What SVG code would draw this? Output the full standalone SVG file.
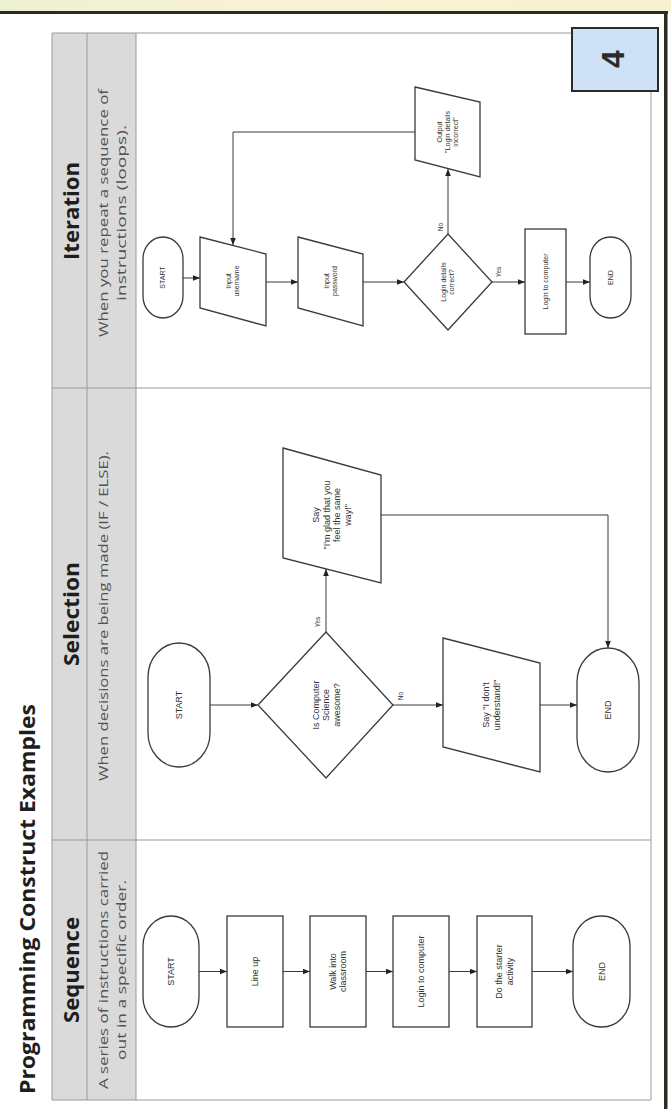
<svg xmlns="http://www.w3.org/2000/svg" width="671" height="1109" viewBox="0 0 671 1109">
<defs>
<linearGradient id="band" x1="0" y1="0" x2="1" y2="0">
<stop offset="0" stop-color="#eef0d2"/><stop offset="0.4" stop-color="#f7f3d4"/><stop offset="1" stop-color="#f6f1d0"/>
</linearGradient>
<marker id="ah" viewBox="0 0 10 10" refX="10" refY="5" markerWidth="7" markerHeight="7" markerUnits="userSpaceOnUse" orient="auto">
<path d="M0,1 L10,5 L0,9 z" fill="#222"/>
</marker>
<style>
.shape{fill:#fff;stroke:#3a3a3a;stroke-width:1.3}
.conn{fill:none;stroke:#3a3a3a;stroke-width:1;marker-end:url(#ah)}
.line{fill:none;stroke:#3a3a3a;stroke-width:1}
.grid{fill:none;stroke:#9a9a9a;stroke-width:1}
.nt{font-family:'Liberation Sans',Arial,sans-serif;font-size:9px;fill:#333;text-anchor:middle}
.st{font-family:'Liberation Sans',Arial,sans-serif;font-size:7px;fill:#333;text-anchor:middle}
.lb{font-family:'Liberation Sans',Arial,sans-serif;font-size:6.5px;fill:#333;text-anchor:middle}
.hd{font-family:'Open Sans','Liberation Sans',sans-serif;font-weight:bold;font-size:22px;fill:#1e1e1e;text-anchor:middle}
.ds{font-family:'Open Sans','Liberation Sans',sans-serif;font-size:13.5px;fill:#525252;text-anchor:middle}
</style>
</defs>

<g id="background">
<rect x="0" y="0" width="671" height="1109" fill="#ffffff"/>
<rect x="0" y="0" width="671" height="12" fill="url(#band)"/>
<rect x="0" y="11" width="668" height="3" fill="#2b2b22"/>
<rect x="664" y="11" width="3.5" height="1098" fill="#2b2b22"/>
</g>

<g id="table">
<rect x="52" y="33" width="84" height="1067" fill="#dadada"/>
<line class="grid" x1="52" y1="33" x2="600" y2="33"/>
<line class="grid" x1="52" y1="33" x2="52" y2="1100"/>
<line class="grid" x1="52" y1="1100" x2="651" y2="1100"/>
<line class="grid" x1="651" y1="60" x2="651" y2="1100"/>
<line class="grid" x1="87" y1="33" x2="87" y2="1100"/>
<line class="grid" x1="136" y1="33" x2="136" y2="1100"/>
<line class="grid" x1="52" y1="388" x2="651" y2="388"/>
<line class="grid" x1="52" y1="840" x2="651" y2="840"/>
</g>

<g id="title">
<text class="hd" transform="translate(35,899) rotate(-90)" textLength="390" lengthAdjust="spacingAndGlyphs">Programming Construct Examples</text>
</g>

<g id="headers">
<text class="hd" transform="translate(79,970) rotate(-90)" textLength="106" lengthAdjust="spacingAndGlyphs">Sequence</text>
<text class="hd" transform="translate(79,614) rotate(-90)" textLength="104" lengthAdjust="spacingAndGlyphs">Selection</text>
<text class="hd" transform="translate(79,211) rotate(-90)" textLength="98" lengthAdjust="spacingAndGlyphs">Iteration</text>
<text class="ds" transform="translate(0,970) rotate(-90)"><tspan x="0" y="108" textLength="238" lengthAdjust="spacingAndGlyphs">A series of instructions carried</tspan><tspan x="0" y="126" textLength="180" lengthAdjust="spacingAndGlyphs">out in a specific order.</tspan></text>
<text class="ds" transform="translate(0,616) rotate(-90)"><tspan x="0" y="108" textLength="330" lengthAdjust="spacingAndGlyphs">When decisions are being made (IF / ELSE).</tspan></text>
<text class="ds" transform="translate(0,213) rotate(-90)"><tspan x="0" y="108" textLength="248" lengthAdjust="spacingAndGlyphs">When you repeat a sequence of</tspan><tspan x="0" y="126" textLength="176" lengthAdjust="spacingAndGlyphs">instructions (loops).</tspan></text>
</g>

<g id="badge">
<rect x="572" y="28" width="86" height="63" fill="#cfe1f6" stroke="#2a2a2a" stroke-width="2"/>
<text transform="translate(624,59) rotate(-90)" font-family="'Liberation Sans',Arial,sans-serif" font-weight="bold" font-size="32" fill="#2a2a2a" text-anchor="middle">4</text>
</g>

<g id="connectors">
<line class="conn" x1="199" y1="971.5" x2="227" y2="971.5"/>
<line class="conn" x1="283" y1="971.5" x2="310" y2="971.5"/>
<line class="conn" x1="366" y1="971.5" x2="393" y2="971.5"/>
<line class="conn" x1="449" y1="971.5" x2="477" y2="971.5"/>
<line class="conn" x1="532" y1="971.5" x2="573" y2="971.5"/>

<line class="conn" x1="210" y1="705" x2="258" y2="705"/>
<line class="conn" x1="326" y1="632" x2="326" y2="569"/>
<polyline class="conn" points="381,515 608,515 608,648"/>
<line class="conn" x1="393" y1="705" x2="443" y2="705"/>
<line class="conn" x1="540" y1="705" x2="577" y2="705"/>

<line class="conn" x1="183" y1="278" x2="200" y2="278"/>
<line class="conn" x1="266" y1="282" x2="298" y2="282"/>
<line class="conn" x1="363" y1="282" x2="404" y2="282"/>
<line class="conn" x1="448" y1="234" x2="448" y2="169"/>
<polyline class="conn" points="415,132 233,132 233,245"/>
<line class="conn" x1="492" y1="282" x2="525" y2="282"/>
<line class="conn" x1="566" y1="282" x2="590" y2="282"/>

<text class="lb" transform="translate(320,622) rotate(-90)">Yes</text>
<text class="lb" transform="translate(403,696) rotate(-90)">No</text>
<text class="lb" transform="translate(443,227) rotate(-90)">No</text>
<text class="lb" transform="translate(501,272) rotate(-90)">Yes</text>
</g>

<g id="seq-start"><rect class="shape" x="143" y="916" width="56" height="111" rx="28" ry="30"/><text class="nt" transform="translate(171,971.5) rotate(-90)"><tspan x="0" y="3.15">START</tspan></text></g>
<g id="seq-lineup"><rect class="shape" x="227" y="916" width="56" height="111"/><text class="nt" transform="translate(255,971.5) rotate(-90)"><tspan x="0" y="3.15">Line up</tspan></text></g>
<g id="seq-walk"><rect class="shape" x="310" y="916" width="56" height="111"/><text class="nt" transform="translate(338,971.5) rotate(-90)"><tspan x="0" y="-2.1">Walk into</tspan><tspan x="0" y="8.4">classroom</tspan></text></g>
<g id="seq-login"><rect class="shape" x="393" y="916" width="56" height="111"/><text class="nt" transform="translate(421,971.5) rotate(-90)"><tspan x="0" y="3.15">Login to computer</tspan></text></g>
<g id="seq-starter"><rect class="shape" x="477" y="916" width="55" height="111"/><text class="nt" transform="translate(504.5,971.5) rotate(-90)"><tspan x="0" y="-2.1">Do the starter</tspan><tspan x="0" y="8.4">activity</tspan></text></g>
<g id="seq-end"><rect class="shape" x="573" y="916" width="57" height="111" rx="28" ry="30"/><text class="nt" transform="translate(601.5,971.5) rotate(-90)"><tspan x="0" y="3.15">END</tspan></text></g>

<g id="sel-start"><rect class="shape" x="148" y="643" width="62" height="124" rx="31" ry="34"/><text class="nt" transform="translate(179,705) rotate(-90)"><tspan x="0" y="3.15">START</tspan></text></g>
<g id="sel-decision"><polygon class="shape" points="258,705 326,632 393,705 326,778"/><text class="nt" transform="translate(326,705) rotate(-90)"><tspan x="0" y="-7.35">Is Computer</tspan><tspan x="0" y="3.15">Science</tspan><tspan x="0" y="13.65">awesome?</tspan></text></g>
<g id="sel-glad"><polygon class="shape" points="283,448 381,475 381,583 283,558"/><text class="nt" transform="translate(332,515) rotate(-90)"><tspan x="0" y="-12.6">Say</tspan><tspan x="0" y="-2.1">"I'm glad that you</tspan><tspan x="0" y="8.4">feel the same</tspan><tspan x="0" y="18.9">way!"</tspan></text></g>
<g id="sel-dont"><polygon class="shape" points="443,638 540,663 540,772 443,747"/><text class="nt" transform="translate(491.5,705) rotate(-90)"><tspan x="0" y="-2.1">Say "I don't</tspan><tspan x="0" y="8.4">understand!"</tspan></text></g>
<g id="sel-end"><rect class="shape" x="577" y="648" width="62" height="124" rx="31" ry="34"/><text class="nt" transform="translate(608,710) rotate(-90)"><tspan x="0" y="3.15">END</tspan></text></g>

<g id="it-start"><rect class="shape" x="143" y="237" width="40" height="81" rx="20" ry="22"/><text class="st" transform="translate(163,277.5) rotate(-90)"><tspan x="0" y="2.45">START</tspan></text></g>
<g id="it-username"><polygon class="shape" points="200,237 266,254 266,326 200,308"/><text class="st" transform="translate(233,281) rotate(-90)"><tspan x="0" y="-1.55">Input</tspan><tspan x="0" y="6.45">username</tspan></text></g>
<g id="it-password"><polygon class="shape" points="298,237 363,254 363,326 298,308"/><text class="st" transform="translate(330.5,281) rotate(-90)"><tspan x="0" y="-1.55">Input</tspan><tspan x="0" y="6.45">password</tspan></text></g>
<g id="it-decision"><polygon class="shape" points="404,282 448,234 492,282 448,330"/><text class="st" transform="translate(448,282) rotate(-90)"><tspan x="0" y="-1.55">Login details</tspan><tspan x="0" y="6.45">correct?</tspan></text></g>
<g id="it-output"><polygon class="shape" points="415,87 480,102 480,177 415,160"/><text class="st" transform="translate(447.5,132) rotate(-90)"><tspan x="0" y="-5.55">Output</tspan><tspan x="0" y="2.45">"Login details</tspan><tspan x="0" y="10.45">incorrect"</tspan></text></g>
<g id="it-login"><rect class="shape" x="525" y="229" width="41" height="105"/><text class="st" transform="translate(545.5,281.5) rotate(-90)"><tspan x="0" y="2.45">Login to computer</tspan></text></g>
<g id="it-end"><rect class="shape" x="590" y="237" width="41" height="81" rx="20" ry="22"/><text class="st" transform="translate(610.5,277.5) rotate(-90)"><tspan x="0" y="2.45">END</tspan></text></g>
</svg>
